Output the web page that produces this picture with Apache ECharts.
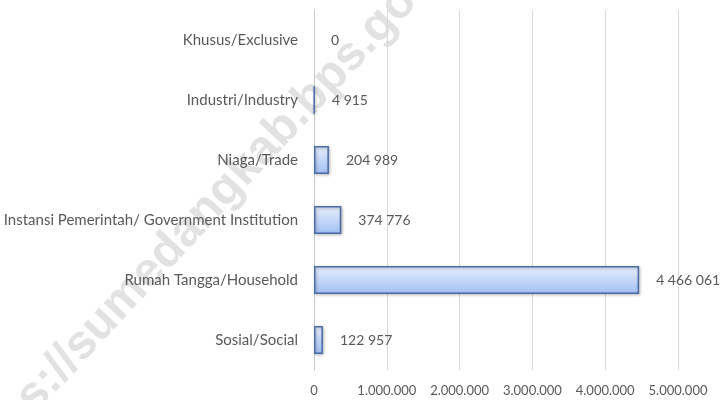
<!DOCTYPE html>
<html>
<head>
<meta charset="utf-8">
<script src="https://cdn.jsdelivr.net/npm/echarts@6/dist/echarts.min.js"></script>
<style>
	html, body { margin: 0; padding: 0; background: #fff; }
	#chart { width: 720px; height: 400px; }
</style>
</head>
<body>
<div id="chart"></div>
<script>
// data
const categories = [
	'Khusus/Exclusive',
	'Industri/Industry',
	'Niaga/Trade',
	'Instansi Pemerintah/ Government Institution',
	'Rumah Tangga/Household',
	'Sosial/Social'
];
const values = [0, 4915, 204989, 374776, 4466061, 122957];
const axisMax = 5000000;
const axisStep = 1000000;

const FONT = 'Lato, "Noto Sans", sans-serif';
const TEXT = '#595959';

// 4466061 -> "4 466 061"
function spaced(v){
	return String(v).replace(/\B(?=(\d{3})+(?!\d))/g, ' ');
}
// 1000000 -> "1.000.000"
function dotted(v){
	return String(v).replace(/\B(?=(\d{3})+(?!\d))/g, '.');
}

const chart = echarts.init(document.getElementById('chart'), null, { renderer: 'canvas' });

chart.setOption({
	animation: false,
	backgroundColor: '#ffffff',
	textStyle: { fontFamily: FONT },
	grid: { left: 314, right: 42, top: 10, bottom: 30, containLabel: false },
	graphic: [{
		// watermark
		type: 'text',
		z: -10,
		silent: true,
		x: 205,
		y: 212,
		rotation: 47 * Math.PI / 180,
		style: {
			text: 'https://sumedangkab.bps.go.id',
			fontFamily: '"Liberation Sans", sans-serif',
			fontWeight: 'bold',
			fontSize: 48,
			fill: '#e2e2e2',
			align: 'center',
			verticalAlign: 'middle'
		}
	}],
	xAxis: {
		type: 'value',
		min: 0,
		max: axisMax,
		interval: axisStep,
		axisLine: { show: false },
		axisTick: { show: false },
		splitLine: { lineStyle: { color: '#d9d9d9', width: 1 } },
		axisLabel: {
			color: TEXT,
			fontSize: 13,
			fontFamily: FONT,
			margin: 14,
			formatter: v => v === 0 ? '0' : dotted(v)
		}
	},
	yAxis: {
		type: 'category',
		data: categories,
		inverse: true,
		axisLine: { show: true, lineStyle: { color: '#c8c8c8', width: 1 } },
		axisTick: { show: false },
		axisLabel: {
			color: TEXT,
			fontSize: 15,
			fontFamily: FONT,
			margin: 16
		}
	},
	series: [{
		type: 'bar',
		// a zero bar gets no outline
		data: values.map(v => v === 0 ? { value: v, itemStyle: { borderWidth: 0, shadowBlur: 0, shadowOffsetX: 0, shadowOffsetY: 0 } } : v),
		barWidth: 28,
		itemStyle: {
			color: new echarts.graphic.LinearGradient(0, 0, 0, 1, [
				{ offset: 0, color: '#e8effc' },
				{ offset: 1, color: '#a2c0f4' }
			]),
			borderColor: '#4a6da8',
			borderWidth: 1.5,
			shadowBlur: 3,
			shadowColor: 'rgba(0,0,0,0.3)',
			shadowOffsetX: 1,
			shadowOffsetY: 1
		},
		label: {
			show: true,
			position: 'right',
			distance: 17,
			color: TEXT,
			fontSize: 14,
			fontFamily: FONT,
			formatter: p => spaced(p.value)
		}
	}]
});
</script>
</body>
</html>
